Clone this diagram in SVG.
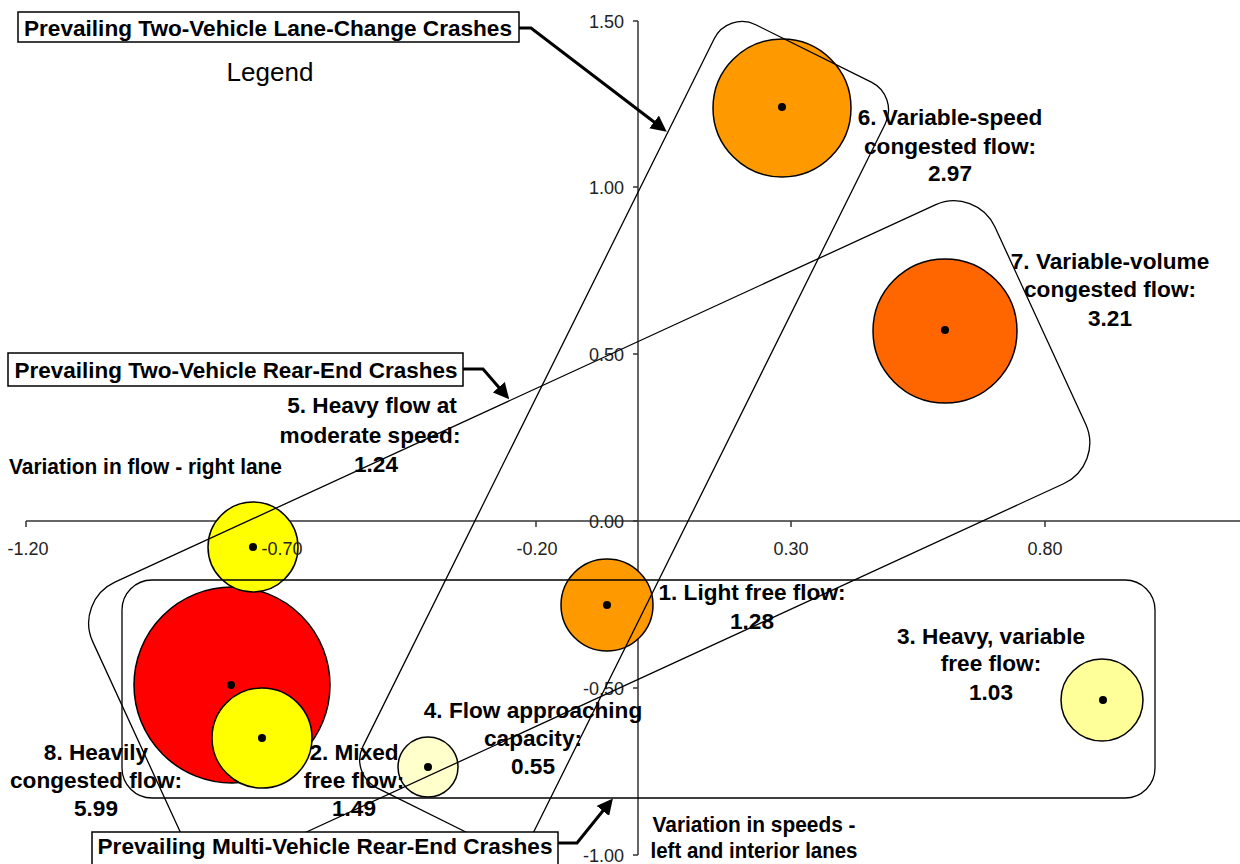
<svg xmlns="http://www.w3.org/2000/svg" width="1240" height="864" viewBox="0 0 1240 864">
<style>
.lbl{font-family:"Liberation Sans",Arial,sans-serif;font-weight:bold;font-size:22.6px;fill:#000}
.tick{font-family:"Liberation Sans",Arial,sans-serif;font-size:18px;fill:#222}
.ax{stroke:#333;stroke-width:1.5;fill:none}
.bub{stroke:#000;stroke-width:1.5}
.dot{fill:#000}
.reg{fill:none;stroke:#000;stroke-width:1.3}
.box{fill:#fff;stroke:#000;stroke-width:1.5}
.arr{fill:none;stroke:#000;stroke-width:3;stroke-linejoin:miter}
</style>
<defs>
<marker id="ah" markerUnits="userSpaceOnUse" markerWidth="16" markerHeight="16" refX="5" refY="8" orient="auto">
<path d="M0,0 L16,8 L0,16 z" fill="#000"/>
</marker>
</defs>
<rect width="1240" height="864" fill="#fff"/>
<g id="axes">
<line class="ax" x1="26" y1="521" x2="1240" y2="521"/>
<line class="ax" x1="638" y1="21" x2="638" y2="855"/>
<path class="ax" d="M26,521v6 M281,521v6 M536,521v6 M791,521v6 M1045,521v6 M638,21h-5 M638,187h-5 M638,354h-5 M638,521h-5 M638,688h-5 M638,855h-5"/>
<g class="tick" text-anchor="end">
<text x="624" y="28">1.50</text>
<text x="624" y="194">1.00</text>
<text x="624" y="361">0.50</text>
<text x="624" y="528">0.00</text>
<text x="624" y="695">-0.50</text>
<text x="624" y="862">-1.00</text>
</g>
</g>
<g id="bubbles">
<g id="bubble-8"><circle class="bub" cx="232" cy="685" r="98" fill="#FF0000"/><circle class="dot" cx="231" cy="685" r="4"/></g>
<g id="bubble-5"><circle class="bub" cx="253" cy="547" r="45" fill="#FFFF00"/><circle class="dot" cx="253" cy="547" r="4"/></g>
<g id="bubble-2"><circle class="bub" cx="262" cy="738" r="50" fill="#FFFF00"/><circle class="dot" cx="262" cy="738" r="4"/></g>
<g id="bubble-4"><circle class="bub" cx="428" cy="767" r="30" fill="#FFFFCC"/><circle class="dot" cx="428" cy="767" r="4"/></g>
<g id="bubble-1"><circle class="bub" cx="607" cy="605" r="46" fill="#FF9900"/><circle class="dot" cx="607" cy="605" r="4"/></g>
<g id="bubble-6"><circle class="bub" cx="782" cy="108" r="69" fill="#FF9900"/><circle class="dot" cx="782" cy="107" r="4"/></g>
<g id="bubble-7"><circle class="bub" cx="945" cy="331" r="72" fill="#FF6600"/><circle class="dot" cx="945" cy="330" r="4"/></g>
<g id="bubble-3"><circle class="bub" cx="1102" cy="700" r="41" fill="#FFFF99"/><circle class="dot" cx="1103" cy="700" r="4"/></g>
</g>
<text class="tick" x="282" y="555" text-anchor="middle">-0.70</text>
<g class="tick" text-anchor="middle">
<text x="28" y="555">-1.20</text>
<text x="537" y="555">-0.20</text>
<text x="791" y="555">0.30</text>
<text x="1045" y="555">0.80</text>
</g>
<g id="labels" class="lbl" text-anchor="middle">
<g id="label-6"><text x="950" y="125">6. Variable-speed</text><text x="950" y="154">congested flow:</text><text x="950" y="181">2.97</text></g>
<g id="label-7"><text x="1110" y="269">7. Variable-volume</text><text x="1110" y="297">congested flow:</text><text x="1110" y="326">3.21</text></g>
<g id="label-5"><text x="372" y="413">5. Heavy flow at</text><text x="370" y="443">moderate speed:</text><text x="376" y="472">1.24</text></g>
<g id="label-1"><text x="752" y="600">1. Light free flow:</text><text x="752" y="629">1.28</text></g>
<g id="label-3"><text x="991" y="644">3. Heavy, variable</text><text x="991" y="671">free flow:</text><text x="991" y="700">1.03</text></g>
<g id="label-4"><text x="533" y="718">4. Flow approaching</text><text x="533" y="746">capacity:</text><text x="533" y="774">0.55</text></g>
<g id="label-2"><text x="354" y="760">2. Mixed</text><text x="354" y="788">free flow:</text><text x="354" y="816">1.49</text></g>
<g id="label-8"><text x="96" y="760">8. Heavily</text><text x="96" y="788">congested flow:</text><text x="96" y="816">5.99</text></g>
<g id="axis-title-y"><text x="754" y="832" textLength="203" lengthAdjust="spacingAndGlyphs">Variation in speeds -</text><text x="754" y="858" textLength="207" lengthAdjust="spacingAndGlyphs">left and interior lanes</text></g>
<text id="axis-title-x" x="9" y="474" text-anchor="start" textLength="273" lengthAdjust="spacingAndGlyphs">Variation in flow - right lane</text>
</g>
<text id="legend-title" x="270" y="81" text-anchor="middle" style="font-family:'Liberation Sans',Arial,sans-serif;font-size:26px">Legend</text>
<g id="regions">
<rect id="region-lane-change" class="reg" x="0" y="0" width="191" height="852" rx="31" transform="translate(728,11) rotate(26.4)"/>
<rect id="region-two-rear-end" class="reg" x="0" y="0" width="993" height="307" rx="45" transform="translate(74,601) rotate(-24.7)"/>
<rect id="region-multi-rear-end" class="reg" x="122" y="580" width="1033" height="218" rx="30"/>
</g>
<g id="box-lane-change"><rect class="box" x="18" y="12" width="501" height="30"/><text class="lbl" x="268" y="35.5" text-anchor="middle" textLength="488" lengthAdjust="spacingAndGlyphs">Prevailing Two-Vehicle Lane-Change Crashes</text></g>
<g id="box-two-rear-end"><rect class="box" x="8" y="353" width="455" height="33"/><text class="lbl" x="236" y="377.5" text-anchor="middle" textLength="443" lengthAdjust="spacingAndGlyphs">Prevailing Two-Vehicle Rear-End Crashes</text></g>
<g id="box-multi-rear-end"><rect class="box" x="92" y="832" width="466" height="40"/><text class="lbl" x="325" y="853.5" text-anchor="middle" textLength="455" lengthAdjust="spacingAndGlyphs">Prevailing Multi-Vehicle Rear-End Crashes</text></g>
<g id="connectors">
<path class="arr" d="M519,28 H531 L658,125" marker-end="url(#ah)"/>
<path class="arr" d="M463,369 H483 L502,391" marker-end="url(#ah)"/>
<path class="arr" d="M558,843 H577 L606,807" marker-end="url(#ah)"/>
</g>
</svg>
